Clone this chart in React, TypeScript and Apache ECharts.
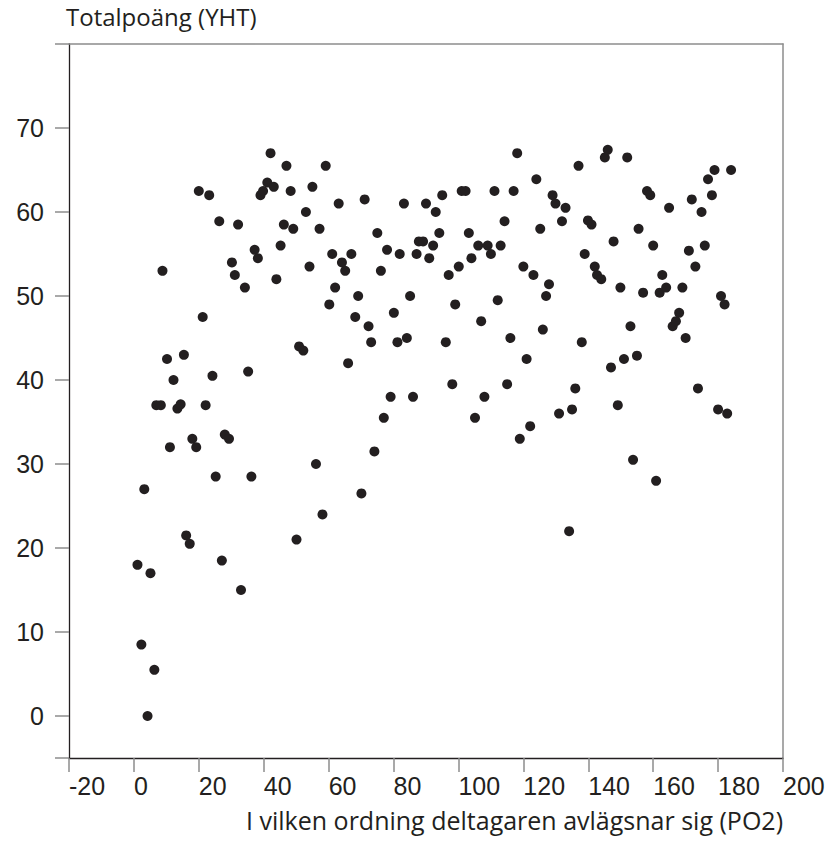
import React, { useEffect, useRef } from "react";
import * as echarts from "echarts";

// PO2: order in which the participant leaves (x); YHT: total score (y)
const po2: number[] = [
  1.1, 2.3, 3.2, 4.2, 5.1, 6.3, 6.9, 8.3, 8.8, 10.2, 11.1, 12.2, 13.4, 14.4, 15.4, 16.1, 17.2, 18, 19.2, 20,
  21.2, 22.1, 23.2, 24.2, 25.2, 26.3, 27.1, 28, 29.3, 30.2, 31.1, 32.1, 33, 34.2, 35.2, 36.2, 37.2, 38.2, 39, 39.8,
  41.1, 42.1, 43.1, 43.9, 45.2, 46.2, 47, 48.3, 49.1, 50.1, 50.9, 52.2, 53, 54.1, 55, 56.1, 57.2, 58.1, 59.1, 60.2,
  61.1, 62, 63.1, 64.1, 65.1, 66, 67, 68.2, 69.1, 70.1, 71.1, 72.3, 73.1, 74.1, 75, 76.1, 77, 78, 79.1, 80.1,
  81.2, 81.9, 83.2, 84.1, 85.1, 86, 87.1, 87.8, 89.1, 90, 91, 92.2, 93, 94.1, 95, 96.1, 97, 98.1, 99, 100.1,
  101, 102.2, 103.2, 104, 105.1, 106.1, 107, 108, 109, 110, 111.1, 112.1, 113, 114.2, 115, 116, 117, 118.1, 118.9, 120,
  121, 122.1, 123.1, 124, 125.2, 126, 127, 127.9, 129, 129.9, 131, 131.9, 133, 134.1, 135, 136, 137, 138, 138.9, 139.9,
  141, 142, 142.7, 144, 145.1, 146, 147, 147.8, 149.1, 149.9, 151, 152, 153, 153.8, 155, 155.5, 156.9, 158.1, 159.1, 160,
  160.9, 162, 162.8, 164, 164.9, 166, 167, 168, 169, 170, 171, 171.9, 173, 173.8, 174.9, 175.9, 176.9, 178.1, 178.9, 180,
  180.9, 182, 182.8, 184
];

const yht: number[] = [
  18, 8.5, 27, 0, 17, 5.5, 37, 37, 53, 42.5, 32, 40, 36.6, 37.1, 43, 21.5, 20.5, 33, 32, 62.5,
  47.5, 37, 62, 40.5, 28.5, 58.9, 18.5, 33.5, 33, 54, 52.5, 58.5, 15, 51, 41, 28.5, 55.5, 54.5, 62, 62.5,
  63.5, 67, 63, 52, 56, 58.5, 65.5, 62.5, 58, 21, 44, 43.5, 60, 53.5, 63, 30, 58, 24, 65.5, 49,
  55, 51, 61, 54, 53, 42, 55, 47.5, 50, 26.5, 61.5, 46.4, 44.5, 31.5, 57.5, 53, 35.5, 55.5, 38, 48,
  44.5, 55, 61, 45, 50, 38, 55, 56.5, 56.5, 61, 54.5, 56, 60, 57.5, 62, 44.5, 52.5, 39.5, 49, 53.5,
  62.5, 62.5, 57.5, 54.5, 35.5, 56, 47, 38, 56, 55, 62.5, 49.5, 56, 58.9, 39.5, 45, 62.5, 67, 33, 53.5,
  42.5, 34.5, 52.5, 63.9, 58, 46, 50, 51.4, 62, 61, 36, 58.9, 60.5, 22, 36.5, 39, 65.5, 44.5, 55, 59,
  58.5, 53.5, 52.5, 52, 66.5, 67.4, 41.5, 56.5, 37, 51, 42.5, 66.5, 46.4, 30.5, 42.9, 58, 50.4, 62.5, 62, 56,
  28, 50.4, 52.5, 51, 60.5, 46.4, 47, 48, 51, 45, 55.4, 61.5, 53.5, 39, 60, 56, 63.9, 62, 65, 36.5,
  50, 49, 36, 65
];

const xMin = -20;
const xMax = 200;
const xStep = 20;
const yMin = -5;
const yMax = 80;
const yLabelValues = [0, 10, 20, 30, 40, 50, 60, 70];
const yTickValues = [-5, 0, 10, 20, 30, 40, 50, 60, 70, 80];
const yTitle = "Totalpoäng (YHT)";
const xTitle = "I vilken ordning deltagaren avlägsnar sig (PO2)";

export default function App() {
  const ref = useRef<HTMLDivElement>(null);
  useEffect(() => {
    const chart = echarts.init(ref.current!, null, { renderer: "svg" });
    const ink = "#231f20";
    const grey = "#8c8c8c";
    const numFont = "Liberation Sans";
    chart.setOption({
      animation: false,
      grid: { left: 69, right: 45, top: 44, bottom: 83 },
      xAxis: [
        {
          type: "value",
          position: "bottom",
          min: xMin,
          max: xMax,
          interval: xStep,
          splitLine: { show: false },
          axisLine: { show: true, onZero: false, lineStyle: { color: ink, width: 1.3 } },
          axisTick: { show: true, length: 14, lineStyle: { color: grey, width: 1.5 } },
          axisLabel: {
            align: "left",
            margin: 15,
            fontSize: 25,
            lineHeight: 25,
            fontFamily: numFont,
            color: ink,
            showMinLabel: true,
            showMaxLabel: true,
          },
        },
        {
          type: "value",
          position: "top",
          min: xMin,
          max: xMax,
          splitLine: { show: false },
          axisLine: { show: true, onZero: false, lineStyle: { color: grey, width: 1.5 } },
          axisTick: { show: false },
          axisLabel: { show: false },
        },
      ],
      yAxis: [
        {
          type: "value",
          position: "left",
          min: yMin,
          max: yMax,
          splitLine: { show: false },
          axisLine: { show: true, onZero: false, lineStyle: { color: ink, width: 1.3 } },
          axisTick: { show: true, length: 14, customValues: yTickValues, lineStyle: { color: grey, width: 1.5 } },
          axisLabel: {
            customValues: yLabelValues,
            margin: 25,
            fontSize: 25,
            fontFamily: numFont,
            color: ink,
          },
        },
        {
          type: "value",
          position: "right",
          min: yMin,
          max: yMax,
          splitLine: { show: false },
          axisLine: { show: true, onZero: false, lineStyle: { color: grey, width: 1.5 } },
          axisTick: { show: false },
          axisLabel: { show: false },
        },
      ],
      series: [
        {
          type: "scatter",
          xAxisIndex: 0,
          yAxisIndex: 0,
          data: po2.map((x, i) => [x, yht[i]]),
          symbolSize: 10,
          itemStyle: { color: ink, opacity: 1 },
        },
      ],
      graphic: [
        {
          type: "text",
          left: 66,
          top: 4,
          style: { text: yTitle, font: '24px "Open Sans"', fill: ink },
        },
        {
          type: "text",
          right: 45,
          top: 805,
          style: { text: xTitle, font: '25px "Open Sans"', lineHeight: 30, fill: ink },
        },
      ],
    });
    return () => chart.dispose();
  }, []);
  return (
    <div
      ref={ref}
      style={{ position: "absolute", left: 0, top: 0, width: 828, height: 841 }}
    />
  );
}
